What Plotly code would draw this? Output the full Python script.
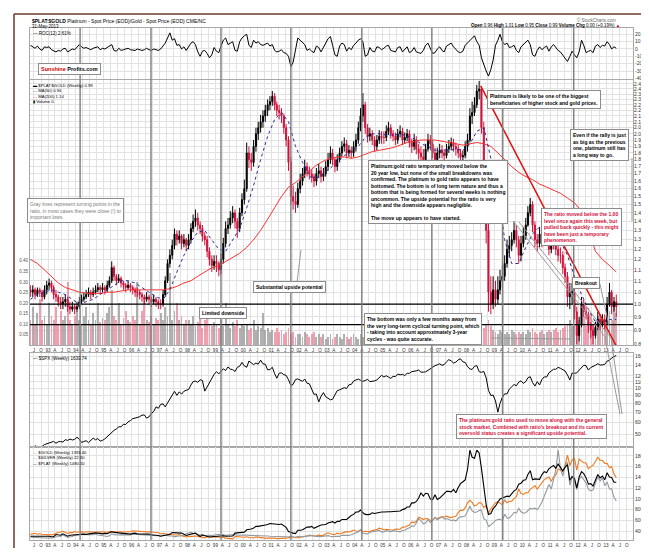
import plotly.graph_objects as go
import pandas as pd
import math

W, H = 649, 558
L, R, T, B = 22, 24, 20, 26
PW, PH = W - L - R, H - T - B


def px(x):
    return (x - L) / PW


def py(y):
    return (H - B - y) / PH


# ---------------- data (monthly, May 1992 - May 2013) ----------------
start_month = "1992-05-01"
n_months = 253

ratio_close = [
    1.05, 1.06, 1.04, 1.06, 1.05, 1.03, 1.06, 1.08,
    1.09, 1.07, 1.04, 1.03, 1.01, 1.00, 1.01, 1.02, 0.99, 0.98, 0.99, 0.98,
    0.99, 1.01, 1.02, 1.03, 1.04, 1.05, 1.04, 1.05, 1.06, 1.07, 1.06, 1.07,
    1.06, 1.08, 1.10, 1.16, 1.12, 1.10, 1.11, 1.09, 1.08, 1.07, 1.08, 1.07,
    1.06, 1.05, 1.05, 1.04, 1.03, 1.02, 1.03, 1.02, 1.01, 1.02, 1.01, 1.00,
    1.00, 1.04, 1.10, 1.18, 1.22, 1.27, 1.33, 1.30, 1.32, 1.28, 1.30, 1.27,
    1.30, 1.36, 1.40, 1.42, 1.38, 1.36, 1.32, 1.30, 1.24, 1.20, 1.17, 1.19,
    1.18, 1.15, 1.20, 1.28, 1.36, 1.38, 1.42, 1.45, 1.40, 1.36, 1.45, 1.53,
    1.60, 1.85, 1.80, 1.78, 1.90, 2.00, 2.05, 2.10, 2.15, 2.20, 2.25, 2.28,
    2.33, 2.25, 2.20, 2.18, 2.15, 2.05, 1.95, 1.78, 1.55, 1.52, 1.50, 1.60,
    1.65, 1.70, 1.75, 1.72, 1.70, 1.68, 1.65, 1.70, 1.72, 1.68, 1.70, 1.75,
    1.80, 1.85, 1.80, 1.75, 1.80, 1.85, 1.90, 1.92, 1.85, 1.87, 1.85, 1.90,
    1.95, 2.05, 2.15, 2.25, 2.05, 1.98, 2.00, 1.95, 1.90, 1.95, 1.98, 1.97,
    1.97, 2.02, 2.05, 2.00, 1.98, 1.95, 2.00, 2.02, 1.95, 1.97, 2.00, 1.93,
    1.90, 1.95, 1.88, 1.85, 1.82, 1.80, 1.88, 1.95, 1.92, 1.85, 1.80, 1.85,
    1.87, 1.85, 1.83, 1.88, 1.90, 1.93, 1.90, 1.88, 1.85, 1.82, 1.83, 1.90,
    1.95, 2.15, 2.18, 2.25, 2.38, 2.40, 2.05, 1.70, 1.35, 1.05, 1.00, 1.06,
    1.02, 1.06, 1.10, 1.12, 1.18, 1.25, 1.27, 1.30, 1.35, 1.30, 1.22, 1.28,
    1.32, 1.38, 1.45, 1.50, 1.38, 1.30, 1.28, 1.33, 1.30, 1.32, 1.33, 1.25,
    1.30, 1.28, 1.25, 1.22, 1.22, 1.16, 1.12, 1.03, 1.05, 1.05, 0.97, 0.88,
    0.92, 1.00, 0.97, 0.96, 0.92, 0.90, 0.88, 0.91, 0.94, 0.92, 0.94, 0.93,
    1.00, 1.05, 0.99, 1.01, 0.99,
]
ratio_first_open = 1.06
ratio_high = [
    1.08, 1.08, 1.07, 1.07, 1.07, 1.06, 1.08, 1.10,
    1.11, 1.10, 1.08, 1.06, 1.04, 1.03, 1.03, 1.04, 1.03, 1.01, 1.01, 1.00,
    1.01, 1.03, 1.04, 1.05, 1.06, 1.07, 1.06, 1.07, 1.08, 1.09, 1.08, 1.09,
    1.08, 1.10, 1.12, 1.19, 1.17, 1.13, 1.13, 1.12, 1.10, 1.09, 1.10, 1.09,
    1.08, 1.07, 1.07, 1.06, 1.05, 1.04, 1.05, 1.04, 1.03, 1.04, 1.03, 1.02,
    1.02, 1.06, 1.12, 1.20, 1.25, 1.30, 1.36, 1.35, 1.35, 1.33, 1.33, 1.31,
    1.33, 1.39, 1.44, 1.47, 1.45, 1.40, 1.38, 1.34, 1.32, 1.26, 1.22, 1.22,
    1.22, 1.19, 1.23, 1.31, 1.40, 1.42, 1.46, 1.49, 1.47, 1.42, 1.48, 1.57,
    1.66, 1.93, 1.90, 1.85, 1.95, 2.05, 2.10, 2.16, 2.20, 2.25, 2.30, 2.33,
    2.38, 2.36, 2.28, 2.25, 2.22, 2.17, 2.08, 1.98, 1.82, 1.62, 1.58, 1.64,
    1.70, 1.74, 1.80, 1.78, 1.75, 1.73, 1.70, 1.74, 1.77, 1.75, 1.74, 1.79,
    1.85, 1.90, 1.88, 1.82, 1.84, 1.89, 1.94, 1.97, 1.95, 1.91, 1.90, 1.94,
    2.00, 2.10, 2.22, 2.36, 2.28, 2.08, 2.05, 2.03, 1.98, 1.99, 2.03, 2.02,
    2.02, 2.07, 2.10, 2.08, 2.03, 2.01, 2.04, 2.07, 2.05, 2.01, 2.04, 2.03,
    1.96, 2.00, 1.98, 1.92, 1.90, 1.88, 1.92, 2.00, 1.99, 1.95, 1.89, 1.89,
    1.92, 1.91, 1.88, 1.92, 1.95, 1.97, 1.96, 1.93, 1.91, 1.88, 1.87, 1.94,
    2.00, 2.22, 2.28, 2.32, 2.44, 2.48, 2.42, 2.10, 1.75, 1.40, 1.12, 1.12,
    1.10, 1.12, 1.15, 1.17, 1.22, 1.30, 1.32, 1.34, 1.40, 1.38, 1.32, 1.32,
    1.37, 1.42, 1.49, 1.54, 1.52, 1.40, 1.33, 1.37, 1.36, 1.36, 1.37, 1.35,
    1.34, 1.33, 1.30, 1.27, 1.26, 1.24, 1.18, 1.14, 1.09, 1.09, 1.07, 0.99,
    0.95, 1.03, 1.02, 0.99, 0.97, 0.93, 0.92, 0.93, 0.97, 0.96, 0.96, 0.96,
    1.03, 1.09, 1.06, 1.03, 1.04,
]
ratio_low = [
    1.03, 1.03, 1.02, 1.03, 1.03, 1.01, 1.02, 1.04,
    1.06, 1.05, 1.02, 1.01, 0.99, 0.98, 0.98, 0.99, 0.97, 0.96, 0.97, 0.96,
    0.97, 0.98, 1.00, 1.01, 1.02, 1.03, 1.02, 1.03, 1.04, 1.05, 1.04, 1.05,
    1.04, 1.05, 1.07, 1.09, 1.10, 1.08, 1.09, 1.07, 1.06, 1.05, 1.06, 1.05,
    1.04, 1.03, 1.03, 1.02, 1.01, 1.00, 1.01, 1.00, 0.99, 1.00, 0.99, 0.98,
    0.98, 0.99, 1.03, 1.09, 1.16, 1.20, 1.25, 1.27, 1.28, 1.25, 1.26, 1.24,
    1.25, 1.28, 1.34, 1.37, 1.35, 1.33, 1.29, 1.27, 1.21, 1.17, 1.14, 1.15,
    1.14, 1.12, 1.13, 1.18, 1.26, 1.33, 1.36, 1.39, 1.36, 1.31, 1.34, 1.43,
    1.50, 1.58, 1.74, 1.72, 1.75, 1.86, 1.95, 2.01, 2.05, 2.10, 2.15, 2.20,
    2.24, 2.20, 2.15, 2.12, 2.09, 2.00, 1.90, 1.72, 1.50, 1.47, 1.45, 1.48,
    1.57, 1.62, 1.67, 1.68, 1.66, 1.64, 1.61, 1.62, 1.67, 1.64, 1.65, 1.68,
    1.72, 1.77, 1.76, 1.71, 1.72, 1.78, 1.82, 1.86, 1.81, 1.82, 1.81, 1.82,
    1.86, 1.92, 2.02, 2.10, 2.00, 1.93, 1.94, 1.91, 1.86, 1.87, 1.92, 1.92,
    1.92, 1.94, 1.99, 1.96, 1.94, 1.91, 1.92, 1.97, 1.91, 1.92, 1.94, 1.89,
    1.85, 1.87, 1.84, 1.80, 1.76, 1.75, 1.78, 1.86, 1.87, 1.81, 1.76, 1.78,
    1.81, 1.81, 1.79, 1.81, 1.85, 1.87, 1.86, 1.83, 1.81, 1.78, 1.78, 1.81,
    1.86, 1.93, 2.08, 2.15, 2.22, 2.30, 2.00, 1.62, 1.28, 0.97, 0.96, 0.98,
    0.99, 1.00, 1.04, 1.07, 1.10, 1.16, 1.21, 1.24, 1.28, 1.26, 1.18, 1.19,
    1.26, 1.30, 1.37, 1.43, 1.34, 1.26, 1.24, 1.26, 1.26, 1.27, 1.28, 1.22,
    1.23, 1.25, 1.22, 1.19, 1.18, 1.13, 1.09, 0.99, 0.98, 1.00, 0.94, 0.85,
    0.86, 0.91, 0.95, 0.94, 0.89, 0.87, 0.85, 0.87, 0.90, 0.90, 0.91, 0.90,
    0.92, 0.99, 0.96, 0.97, 0.95,
]
ratio_volume = [
    0.12, 0.18, 0.10, 0.15, 0.22, 0.12, 0.14, 0.10,
    0.20, 0.14, 0.12, 0.18, 0.10, 0.16, 0.12, 0.14, 0.30, 0.12, 0.10, 0.14,
    0.16, 0.12, 0.10, 0.14, 0.18, 0.12, 0.10, 0.15, 0.12, 0.20, 0.11, 0.13,
    0.12, 0.15, 0.18, 0.26, 0.14, 0.12, 0.20, 0.10, 0.13, 0.16, 0.12, 0.11,
    0.14, 0.12, 0.30, 0.10, 0.16, 0.22, 0.12, 0.11, 0.14, 0.10, 0.13, 0.12,
    0.15, 0.12, 0.18, 0.14, 0.34, 0.12, 0.16, 0.20, 0.12, 0.14, 0.10, 0.12,
    0.12, 0.10, 0.14, 0.09, 0.11, 0.13, 0.08, 0.12, 0.16, 0.10, 0.09, 0.11,
    0.10, 0.08, 0.12, 0.09, 0.20, 0.10, 0.08, 0.11, 0.09, 0.12, 0.08, 0.10,
    0.09, 0.10, 0.07, 0.08, 0.12, 0.07, 0.09, 0.08, 0.15, 0.07, 0.08, 0.06,
    0.07, 0.06, 0.08, 0.06, 0.07, 0.05, 0.06, 0.08, 0.05, 0.06, 0.04, 0.05,
    0.05, 0.04, 0.06, 0.05, 0.04, 0.05, 0.06, 0.04, 0.05, 0.04, 0.05, 0.03,
    0.04, 0.05, 0.03, 0.04, 0.05, 0.04, 0.03, 0.05, 0.04, 0.03, 0.04, 0.05,
    0.04, 0.03, 0.05, 0.04, 0.03, 0.04, 0.03, 0.04, 0.05, 0.03, 0.04, 0.03,
    0.03, 0.04, 0.03, 0.05, 0.03, 0.04, 0.03, 0.04, 0.03, 0.04, 0.03, 0.04,
    0.03, 0.04, 0.05, 0.03, 0.04, 0.03, 0.05, 0.03, 0.04, 0.03, 0.04, 0.03,
    0.04, 0.03, 0.04, 0.05, 0.03, 0.04, 0.03, 0.05, 0.04, 0.03, 0.04, 0.05,
    0.04, 0.05, 0.06, 0.04, 0.05, 0.06, 0.07, 0.08, 0.10, 0.12, 0.09, 0.07,
    0.06, 0.05, 0.07, 0.06, 0.05, 0.06, 0.05, 0.07, 0.06, 0.05, 0.06, 0.05,
    0.06, 0.05, 0.07, 0.06, 0.08, 0.06, 0.05, 0.06, 0.07, 0.05, 0.06, 0.07,
    0.06, 0.07, 0.08, 0.06, 0.07, 0.08, 0.09, 0.10, 0.12, 0.09, 0.10, 0.11,
    0.12, 0.10, 0.14, 0.09, 0.11, 0.15, 0.10, 0.12, 0.14, 0.10, 0.13, 0.12,
    0.14, 0.16, 0.12, 0.18, 0.15,
]
roc12 = [
    5, 3, 1, 4, 0, -2, 3, 2,
    3, -1, -3, -4, -2, -3, 0, 1, -4, -2, 0, -1,
    2, 6, 3, 1, 2, 0, -1, 1, 2, 3, -1, 1,
    0, 2, 3, 6, -2, -3, 1, -2, -1, 0, 1, -1,
    -1, -2, 0, -1, -2, -1, 1, -1, -2, 0, -1, -2,
    0, 4, 8, 15, 22, 12, 14, 5, 6, 0, 3, -2,
    4, 8, 10, 6, -4, -10, -3, -2, -6, -12, -8, 2,
    -3, -5, 4, 12, 15, 6, 8, 10, -2, -3, 10, 15,
    18, 20, 5, 2, 12, 8, 10, 6, 5, 7, 8, 4,
    6, -2, -4, -3, -1, -5, -6, -10, -24, -18, 2, 15,
    12, 8, 6, -2, 0, -3, -5, 4, 2, -4, 3, 8,
    14, 17, 5, -8, -10, 4, 8, 6, -3, 2, -1, 5,
    8, 12, 14, 10, -10, -8, 2, -3, -4, 3, 2, -1,
    1, 4, 5, -2, -3, -4, 2, 3, -4, 0, 3, -5,
    -3, 2, -4, -5, -6, -2, 5, 8, 2, -6, -5, 0,
    3, -2, -4, 4, 6, 8, 3, -1, -4, -5, -3, 5,
    8, 12, 15, 18, 10, 5, -12, -22, -30, -37, -28, -15,
    5, 12, 20, 10, 6, 8, 2, 3, 5, -2, -5, 3,
    6, 8, 12, 6, -8, -10, -2, 3, -1, 2, 4, -3,
    3, 6, 2, -2, -4, -8, -12, -17, -10, -3, -8, -12,
    -4, 12, 5, -5, -3, -2, -5, 4, 6, 2, 5, 4,
    10, 6, 0, 3, 1,
]
# quarterly readings of the moving averages (every 3rd month from May 1992)
ma50 = [
    1.02, 1.04, 1.05, 1.06, 1.05, 1.04, 1.02, 1.00, 1.01, 1.02, 1.04,
    1.06, 1.08, 1.10, 1.10, 1.09, 1.07, 1.05, 1.03, 1.02, 1.06, 1.14,
    1.22, 1.29, 1.34, 1.35, 1.30, 1.25, 1.24, 1.30, 1.36, 1.48, 1.62,
    1.80, 1.98, 2.12, 2.18, 2.10, 1.90, 1.78, 1.68, 1.67, 1.70, 1.74,
    1.78, 1.83, 1.86, 1.90, 1.97, 2.00, 2.00, 1.99, 1.99, 2.00, 1.98,
    1.96, 1.92, 1.90, 1.87, 1.87, 1.87, 1.88, 1.87, 1.92, 2.02, 2.05,
    1.82, 1.60, 1.30, 1.18, 1.18, 1.26, 1.33, 1.37, 1.36, 1.33, 1.29,
    1.22, 1.12, 1.04, 0.98, 0.93, 0.93, 0.94, 0.94,
]
ma200 = [
    1.20, 1.18, 1.15, 1.12, 1.09, 1.07, 1.06, 1.05, 1.045, 1.045, 1.045,
    1.05, 1.05, 1.055, 1.06, 1.06, 1.06, 1.06, 1.06, 1.06, 1.065, 1.075,
    1.09, 1.10, 1.12, 1.14, 1.16, 1.17, 1.19, 1.21, 1.23, 1.26, 1.30,
    1.35, 1.41, 1.48, 1.55, 1.61, 1.64, 1.68, 1.72, 1.76, 1.79, 1.81,
    1.82, 1.82, 1.81, 1.82, 1.84, 1.86, 1.87, 1.88, 1.89, 1.91, 1.93,
    1.94, 1.95, 1.95, 1.95, 1.94, 1.93, 1.92, 1.91, 1.92, 1.93, 1.92,
    1.90, 1.85, 1.80, 1.75, 1.71, 1.68, 1.66, 1.63, 1.61, 1.59, 1.57,
    1.54, 1.51, 1.46, 1.36, 1.24, 1.20, 1.17, 1.14,
]
ratio_levels = [1.00, 0.92]

spx = [
    415, 408, 424, 414, 418, 419, 431, 436,
    439, 443, 452, 440, 450, 451, 448, 464, 459, 468, 462, 466,
    481, 467, 446, 451, 457, 444, 458, 475, 463, 472, 454, 459,
    470, 487, 501, 515, 533, 545, 562, 562, 584, 582, 605, 616,
    636, 640, 646, 654, 669, 671, 640, 652, 687, 705, 757, 741,
    786, 791, 757, 801, 848, 885, 954, 899, 947, 915, 955, 970,
    980, 1049, 1102, 1112, 1091, 1134, 1121, 957, 1017, 1099, 1164, 1229,
    1280, 1238, 1286, 1335, 1302, 1373, 1329, 1320, 1283, 1363, 1389, 1469,
    1394, 1366, 1499, 1452, 1421, 1455, 1431, 1518, 1437, 1429, 1315, 1320,
    1366, 1240, 1160, 1249, 1256, 1224, 1211, 1134, 1041, 1060, 1139, 1148,
    1130, 1107, 1147, 1077, 1067, 990, 912, 916, 815, 886, 936, 880,
    856, 841, 848, 917, 964, 975, 990, 1008, 996, 1051, 1058, 1112,
    1131, 1145, 1126, 1107, 1121, 1141, 1102, 1104, 1115, 1130, 1174, 1212,
    1181, 1204, 1181, 1157, 1192, 1191, 1234, 1220, 1229, 1207, 1249, 1248,
    1280, 1281, 1295, 1311, 1270, 1270, 1277, 1304, 1336, 1378, 1401, 1418,
    1438, 1407, 1421, 1482, 1531, 1503, 1455, 1474, 1527, 1549, 1481, 1468,
    1379, 1331, 1323, 1386, 1400, 1280, 1267, 1283, 1165, 969, 896, 903,
    826, 700, 798, 873, 919, 919, 987, 1021, 1057, 1036, 1096, 1115,
    1074, 1104, 1169, 1187, 1089, 1031, 1102, 1049, 1141, 1183, 1181, 1258,
    1286, 1327, 1326, 1364, 1345, 1321, 1292, 1219, 1131, 1253, 1247, 1258,
    1312, 1366, 1408, 1398, 1310, 1362, 1379, 1407, 1441, 1412, 1416, 1426,
    1498, 1515, 1569, 1598, 1631,
]
gold = [
    337, 343, 357, 340, 349, 339, 334, 333,
    329, 328, 337, 355, 378, 377, 400, 372, 355, 370, 371, 391,
    378, 381, 389, 376, 387, 386, 384, 386, 395, 383, 384, 383,
    375, 376, 392, 389, 385, 387, 383, 382, 384, 383, 387, 387,
    405, 400, 397, 392, 391, 382, 385, 386, 379, 379, 371, 369,
    345, 358, 348, 340, 345, 334, 326, 325, 333, 311, 296, 290,
    303, 297, 301, 310, 293, 296, 288, 273, 294, 292, 294, 288,
    285, 287, 280, 286, 268, 262, 255, 255, 299, 300, 292, 290,
    283, 293, 278, 276, 272, 288, 277, 278, 273, 264, 269, 272,
    265, 267, 258, 263, 266, 270, 265, 273, 293, 279, 275, 277,
    282, 297, 302, 308, 326, 318, 305, 312, 323, 317, 319, 348,
    368, 348, 335, 337, 361, 346, 354, 375, 388, 383, 398, 417,
    400, 396, 424, 388, 395, 392, 390, 407, 416, 428, 453, 438,
    423, 434, 428, 435, 415, 437, 429, 434, 473, 470, 495, 513,
    568, 556, 582, 654, 643, 613, 633, 626, 598, 604, 646, 632,
    650, 665, 661, 677, 659, 650, 665, 673, 743, 789, 783, 834,
    923, 971, 933, 865, 886, 930, 918, 833, 870, 730, 814, 869,
    928, 942, 916, 891, 979, 927, 955, 955, 1001, 1040, 1182, 1096,
    1081, 1116, 1113, 1180, 1207, 1244, 1181, 1246, 1307, 1357, 1383, 1405,
    1327, 1409, 1439, 1556, 1536, 1500, 1628, 1813, 1620, 1722, 1746, 1531,
    1740, 1710, 1669, 1664, 1558, 1598, 1622, 1692, 1772, 1719, 1712, 1657,
    1660, 1578, 1598, 1467, 1393,
]
silver = [
    4.05, 4.05, 3.95, 3.75, 3.70, 3.75, 3.75, 3.70,
    3.65, 3.60, 3.80, 4.30, 4.50, 4.45, 5.30, 4.65, 4.00, 4.30, 4.50, 5.10,
    5.10, 5.30, 5.70, 5.35, 5.45, 5.35, 5.15, 5.30, 5.70, 5.20, 5.10, 4.90,
    4.70, 4.50, 4.80, 5.80, 5.40, 5.20, 5.20, 5.40, 5.40, 5.30, 5.30, 5.20,
    5.60, 5.50, 5.50, 5.40, 5.40, 5.10, 5.10, 5.15, 4.90, 4.80, 4.80, 4.75,
    4.70, 5.20, 5.00, 4.70, 4.75, 4.70, 4.30, 4.60, 4.80, 4.80, 4.95, 5.90,
    6.10, 6.50, 6.00, 6.00, 5.10, 5.50, 5.50, 4.90, 5.10, 5.00, 4.90, 5.00,
    5.20, 5.55, 5.00, 5.40, 5.00, 5.10, 5.30, 5.20, 5.40, 5.10, 5.10, 5.40,
    5.20, 5.20, 5.00, 5.00, 4.95, 5.00, 4.90, 4.90, 4.90, 4.70, 4.70, 4.60,
    4.60, 4.50, 4.30, 4.40, 4.40, 4.30, 4.30, 4.20, 4.70, 4.30, 4.10, 4.60,
    4.20, 4.40, 4.60, 4.60, 5.00, 4.90, 4.80, 4.50, 4.60, 4.40, 4.60, 4.70,
    4.90, 4.60, 4.40, 4.60, 4.50, 4.50, 5.10, 5.00, 5.20, 5.00, 5.30, 5.90,
    6.30, 6.70, 7.90, 6.10, 6.00, 5.80, 6.60, 6.80, 6.80, 7.30, 7.50, 6.80,
    6.80, 7.40, 7.20, 6.90, 7.40, 7.10, 7.10, 6.80, 7.50, 7.60, 8.30, 8.80,
    9.80, 9.60, 11.20, 13.40, 12.40, 10.80, 11.20, 12.90, 11.50, 12.50, 14.10, 12.90,
    13.60, 14.40, 13.30, 13.40, 13.10, 12.40, 12.80, 12.20, 13.60, 14.30, 14.40, 14.80,
    17.00, 19.80, 17.30, 16.60, 16.80, 17.50, 17.70, 13.30, 12.70, 9.50, 10.20, 11.30,
    12.50, 13.00, 13.10, 12.50, 15.60, 13.70, 13.80, 15.00, 16.60, 16.20, 18.60, 16.90,
    16.20, 16.40, 17.50, 18.60, 18.40, 18.70, 18.00, 19.50, 21.80, 24.70, 28.10, 30.60,
    28.30, 33.20, 37.80, 48.00, 38.30, 34.80, 40.10, 41.70, 30.20, 34.50, 32.80, 28.00,
    33.20, 34.60, 32.70, 31.30, 28.20, 27.40, 27.90, 30.90, 34.50, 32.30, 33.90, 30.00,
    31.80, 28.30, 28.40, 24.10, 22.30,
]
plat = [
    355, 355, 370, 360, 365, 360, 360, 360,
    355, 345, 345, 390, 375, 375, 405, 375, 355, 375, 380, 390,
    390, 385, 405, 400, 395, 405, 405, 410, 425, 420, 405, 405,
    415, 410, 430, 450, 435, 430, 430, 420, 425, 410, 410, 400,
    415, 420, 405, 405, 400, 390, 395, 400, 385, 385, 380, 370,
    355, 365, 380, 375, 395, 430, 425, 420, 430, 420, 395, 370,
    385, 390, 410, 420, 385, 350, 380, 370, 345, 340, 345, 350,
    360, 365, 375, 365, 355, 355, 350, 360, 420, 425, 440, 440,
    440, 490, 495, 505, 525, 560, 560, 575, 590, 590, 600, 620,
    615, 610, 590, 600, 610, 570, 540, 455, 430, 420, 410, 480,
    480, 490, 515, 545, 545, 560, 520, 550, 570, 590, 590, 600,
    630, 650, 660, 630, 665, 665, 705, 705, 705, 745, 790, 810,
    860, 860, 900, 845, 810, 805, 810, 845, 830, 840, 855, 860,
    860, 870, 865, 865, 870, 885, 885, 880, 910, 925, 965, 965,
    1050, 1050, 1080, 1150, 1260, 1190, 1250, 1240, 1130, 1120, 1220, 1120,
    1150, 1200, 1230, 1290, 1290, 1280, 1330, 1260, 1370, 1450, 1490, 1530,
    1750, 2150, 2000, 1980, 2150, 2090, 1770, 1430, 1010, 810, 830, 930,
    980, 1070, 1130, 1150, 1170, 1190, 1180, 1250, 1300, 1330, 1440, 1460,
    1520, 1530, 1640, 1720, 1530, 1550, 1540, 1540, 1640, 1700, 1680, 1760,
    1800, 1830, 1770, 1860, 1790, 1720, 1790, 1850, 1520, 1600, 1560, 1360,
    1590, 1700, 1660, 1570, 1440, 1450, 1400, 1520, 1640, 1570, 1610, 1530,
    1680, 1590, 1580, 1480, 1480,
]
cycle_dates = ["1994-02-25", "1996-09-10", "1999-03-15", "2001-09-15",
               "2004-04-01", "2006-10-05", "2009-04-20", "2011-11-05"]
resist_dates = ["2008-07-05", "2013-07-01"]
resist_vals = [2.43, 0.82]
spx_ticks = [500, 600, 700, 800, 900, 1000, 1100, 1200, 1400, 1600]
metal_ticks = [400, 600, 800, 1000, 1200, 1400, 1600, 1800]
roc_ticks = [20, 10, 0, -10, -20, -30, -40]
vol_ticks = [0.05, 0.10, 0.15, 0.20, 0.25, 0.30, 0.35, 0.40]

# ---------------- derived ----------------
months = pd.date_range(start_month, periods=n_months, freq="MS") + pd.Timedelta(days=14)
ma_dates = months[::3]
ratio_open = [ratio_first_open] + ratio_close[:-1]
up = [c >= o for o, c in zip(ratio_open, ratio_close)]
vol_colors = ["rgba(150,150,150,0.75)" if u else "rgba(232,130,150,0.75)" for u in up]

XR = ["1992-05-10", "2013-12-20"]
qticks = pd.date_range("1992-07-01", "2013-10-01", freq="QS")
qtext = [f"{d.year % 100:02d}" if d.month == 1 else {4: "A", 7: "J", 10: "O"}[d.month] for d in qticks]

GRID = "#e2e2e2"
FRAME = "#a8a8a8"
FONT = "Arial"
RED = "#d0103a"

fig = go.Figure()

fig.add_trace(go.Scatter(x=months, y=roc12, xaxis="x", yaxis="y", mode="lines",
                         line=dict(color="black", width=1), showlegend=False))
fig.add_trace(go.Bar(x=months, y=ratio_volume, xaxis="x2", yaxis="y2",
                     marker=dict(color=vol_colors, line=dict(width=0)),
                     width=24 * 86400000, showlegend=False))
fig.add_trace(go.Candlestick(x=months, open=ratio_open, high=ratio_high, low=ratio_low,
                             close=ratio_close, xaxis="x2", yaxis="y5", whiskerwidth=0,
                             increasing=dict(line=dict(color="black", width=1), fillcolor="black"),
                             decreasing=dict(line=dict(color=RED, width=1), fillcolor=RED),
                             showlegend=False))
fig.add_trace(go.Scatter(x=ma_dates, y=ma200, xaxis="x2", yaxis="y5", mode="lines",
                         line=dict(color="#ff3030", width=1), showlegend=False))
fig.add_trace(go.Scatter(x=ma_dates, y=ma50, xaxis="x2", yaxis="y5", mode="lines",
                         line=dict(color="#2a2aa0", width=1, dash="dot"), showlegend=False))
for lv in ratio_levels:
    fig.add_trace(go.Scatter(x=XR, y=[lv, lv], xaxis="x2", yaxis="y5", mode="lines",
                             line=dict(color="black", width=1.3), showlegend=False))
fig.add_trace(go.Scatter(x=resist_dates, y=resist_vals, xaxis="x2", yaxis="y5", mode="lines",
                         line=dict(color="#e01010", width=1.5), showlegend=False))
fig.add_trace(go.Scatter(x=months, y=spx, xaxis="x3", yaxis="y3", mode="lines",
                         line=dict(color="black", width=1), showlegend=False))
fig.add_trace(go.Scatter(x=months, y=gold, xaxis="x4", yaxis="y4", mode="lines",
                         line=dict(color="#f07a20", width=1.1), showlegend=False))
fig.add_trace(go.Scatter(x=months, y=silver, xaxis="x4", yaxis="y6", mode="lines",
                         line=dict(color="#909aa0", width=1.1), showlegend=False))
fig.add_trace(go.Scatter(x=months, y=plat, xaxis="x4", yaxis="y7", mode="lines",
                         line=dict(color="black", width=1.1), showlegend=False))

tickf = dict(family=FONT, size=5, color="#333")


def xax(anchor, labels):
    return dict(domain=[0, 1], anchor=anchor, range=XR, type="date",
                tickmode="array", tickvals=qticks, ticktext=qtext, tickangle=0,
                showticklabels=labels, tickfont=dict(family=FONT, size=4.6, color="#333"),
                ticks="", ticklen=0, automargin=False,
                showgrid=True, gridcolor=GRID, gridwidth=1,
                showline=True, linecolor=FRAME, linewidth=1, mirror=True,
                zeroline=False, rangeslider=dict(visible=False), fixedrange=True)


def yax(**kw):
    base = dict(side="right", tickfont=tickf, showgrid=True, gridcolor=GRID, zeroline=False,
                automargin=False, showline=True, linecolor=FRAME, mirror=True, ticks="",
                fixedrange=True, exponentformat="none")
    base.update(kw)
    return base


D_ROC = [py(71), py(20)]
D_MAIN = [py(337), py(72)]
D_SPX = [py(439), py(345)]
D_MET = [py(532), py(439)]

ratio_ticks = [round(0.85 + 0.05 * i, 2) for i in range(33)]

fig.update_layout(
    width=W, height=H, margin=dict(l=L, r=R, t=T, b=B, autoexpand=False),
    paper_bgcolor="white", plot_bgcolor="white",
    font=dict(family=FONT, size=5, color="black"),
    showlegend=False, bargap=0,
    xaxis=xax("y", False),
    xaxis2=xax("y2", True),
    xaxis3=xax("y3", False),
    xaxis4=xax("y4", True),
    yaxis=yax(domain=D_ROC, range=[-40.9, 28.6], tickvals=roc_ticks, ticktext=[str(v) for v in roc_ticks]),
    yaxis2=yax(domain=D_MAIN, range=[0, 1.26], side="left", tickvals=vol_ticks,
               ticktext=[f"{v:.2f}" for v in vol_ticks],
               tickfont=dict(family=FONT, size=4.6, color="#555"), showgrid=False),
    yaxis5=dict(overlaying="y2", anchor="x2", side="right", type="log", automargin=False,
                range=[math.log10(0.847), math.log10(2.489)],
                tickvals=ratio_ticks, ticktext=[f"{v:.2f}" for v in ratio_ticks],
                tickfont=tickf, showgrid=True, gridcolor=GRID, zeroline=False, ticks="",
                fixedrange=True),
    yaxis3=yax(domain=D_SPX, type="log", range=[math.log10(416), math.log10(1690)],
               tickvals=spx_ticks, ticktext=[str(v) for v in spx_ticks]),
    yaxis4=yax(domain=D_MET, range=[233, 1963], tickvals=metal_ticks,
               ticktext=[str(v) for v in metal_ticks]),
    yaxis6=dict(overlaying="y4", anchor="x4", range=[2.7, 49.4], visible=False, fixedrange=True),
    yaxis7=dict(overlaying="y4", anchor="x4", range=[277, 2214], visible=False, fixedrange=True),
)

shapes = []
for d in cycle_dates:
    shapes.append(dict(type="line", xref="x", yref="paper", x0=d, x1=d, y0=0, y1=1,
                       line=dict(color="#7d7d7d", width=1.4), layer="above"))
shapes.append(dict(type="line", xref="paper", yref="paper", x0=px(6), x1=px(646), y0=py(6), y1=py(6),
                   line=dict(color="#6b3a2a", width=1.5)))
shapes.append(dict(type="line", xref="paper", yref="paper", x0=px(6), x1=px(6), y0=py(6), y1=py(540),
                   line=dict(color="#6b3a2a", width=1.5)))


def gline(x0, y0, x1, y1, color="#9a9a9a", w=1):
    shapes.append(dict(type="line", xref="paper", yref="paper", x0=px(x0), y0=py(y0),
                       x1=px(x1), y1=py(y1), line=dict(color=color, width=w), layer="above"))


gline(506, 214, 598, 330)
gline(511, 214, 603, 330)
gline(592, 276, 601, 318)
gline(597, 330, 612, 406)
gline(603, 330, 614, 406)
gline(624, 150, 624, 213)
gline(289, 274, 293, 242)
gline(483, 330, 563, 331)
fig.update_layout(shapes=shapes)

ann = []


def text(x, y, s, size=5, color="black", xanchor="left", yanchor="top"):
    ann.append(dict(xref="paper", yref="paper", x=px(x), y=py(y), text=s, showarrow=False,
                    xanchor=xanchor, yanchor=yanchor, align="left",
                    font=dict(family=FONT, size=size, color=color)))


def box(x, y, s, color="black", size=5, bold=True):
    t = "<br>".join(f"<b>{ln}</b>" if (bold and ln) else ln for ln in s.split("\n"))
    ann.append(dict(xref="paper", yref="paper", x=px(x), y=py(y), text=t, showarrow=False,
                    xanchor="left", yanchor="top", align="left",
                    bgcolor="white", bordercolor="#8c8c8c", borderwidth=1, borderpad=2,
                    font=dict(family=FONT, size=size, color=color)))


text(22, 8, "<b>$PLAT:$GOLD</b> Platinum - Spot Price (EOD)/Gold - Spot Price (EOD) CME/NC", size=5)
text(22, 14, "31-May-2013", size=4.5)
text(610, 7, "© StockCharts.com", size=4.5, color="#666", xanchor="right")
text(614, 13, "<b>Open</b> 0.96 <b>High</b> 1.01 <b>Low</b> 0.95 <b>Close</b> 0.99 <b>Volume</b> "
              "<b>Chg</b> 0.00 (+0.19%) <span style='color:#d00'>▲</span>", size=4.5, xanchor="right")
text(23, 21, "— ROC(12) 2.61%", size=4.5)
text(23, 73, "▬ $PLAT:$GOLD (Weekly) 0.99<br><span style='color:#2a2aa0'>—</span> MA(50) 0.94"
             "<br><span style='color:#ff3030'>—</span> MA(200) 1.14<br>▮ Volume 0", size=4.2)
text(23, 346, "— $SPX (Weekly) 1630.74", size=4.5)
text(23, 440, "<span style='color:#f07a20'>—</span> $GOLD (Weekly) 1393.40<br>"
              "<span style='color:#909aa0'>—</span> $SILVER (Weekly) 22.30<br>"
              "— $PLAT (Weekly) 1480.10", size=4.2)

ann.append(dict(xref="paper", yref="paper", x=px(30), y=py(55),
                text="<b><span style='color:#cc0000'>Sunshine</span> Profits.com</b>",
                showarrow=False, xanchor="left", yanchor="top", bgcolor="white",
                bordercolor="#8c8c8c", borderwidth=1, borderpad=2,
                font=dict(family=FONT, size=5.5, color="black")))

box(479, 82, "Platinum is likely to be one of the biggest\nbeneficiaries of higher stock and gold prices.")
box(562, 121, "Even if the rally is just\nas big as the previous\none, platinum still has\na long way to go.")
box(533, 200, "The ratio moved below the 1.00\nlevel once again this week, but\npulled back quickly - this might\n"
              "have been just a temporary\nphenomenon.", color=RED)
box(564, 269, "Breakout")
box(360, 152, "Platinum:gold ratio temporarily moved below the\n20 year low, but none of the small breakdowns was\n"
              "confirmed. The platinum to gold ratio appears to have\nbottomed. The bottom is of long term nature and thus a\n"
              "bottom that is being formed for several weeks is nothing\nuncommon. The upside potential for the ratio is very\n"
              "high and the downside appears negligible.\n\nThe move up appears to have started.")
box(19, 190, "Gray lines represent turning points in the\nratio, in most cases they were close (!) to\nimportant lows.",
    color="#7a7a7a", bold=False)
box(245, 273, "Substantial upside potential")
box(191, 299, "Limited downside")
box(356, 305, "The bottom was only a few months away from\nthe very long-term cyclical turning point, which\n"
              "- taking into account approximately 3-year\ncycles - was quite accurate.")
box(448, 406, "The platinum:gold ratio used to move along with the general\nstock market. Combined with ratio's breakout and its current\n"
              "oversold status creates a significant upside potential.", color=RED)

fig.update_layout(annotations=ann)
fig.write_html("out.html")
